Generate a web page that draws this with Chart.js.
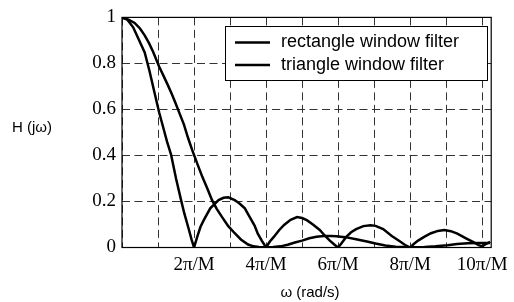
<!DOCTYPE html>
<html>
<head>
<meta charset="UTF-8">
<title>H(jw)</title>
<style>
  body { margin: 0; background: #fff; }
  #wrap { width: 514px; height: 302px; }
</style>
</head>
<body>
<div id="wrap"><canvas id="c" width="514" height="302"></canvas></div>
<script src="https://cdn.jsdelivr.net/npm/chart.js"></script>
<script>
// x in units of pi/M
const rectX = [0, 0.15, 0.31, 0.44, 0.63, 0.76, 0.9, 1.03, 1.13, 1.25, 1.36, 1.5, 1.64, 1.73, 1.86, 1.93, 2.0,
  2.09, 2.18, 2.27, 2.45, 2.68, 2.82, 2.95, 3.13, 3.27, 3.41, 3.5, 3.68, 3.77, 3.88, 4.0,
  4.1, 4.22, 4.36, 4.5, 4.68, 4.86, 5.0, 5.13, 5.3, 5.49, 5.64, 5.77, 5.9, 6.0,
  6.1, 6.22, 6.36, 6.5, 6.7, 6.9, 7.04, 7.25, 7.49, 7.7, 7.85, 8.0,
  8.1, 8.22, 8.4, 8.58, 8.77, 8.95, 9.13, 9.31, 9.55, 9.77, 9.9, 10.0, 10.1, 10.22];
const rectY = [1, 0.99, 0.957, 0.913, 0.848, 0.769, 0.675, 0.588, 0.53, 0.46, 0.405, 0.3, 0.206, 0.148, 0.076, 0.035, 0.0,
  0.047, 0.09, 0.119, 0.17, 0.206, 0.216, 0.218, 0.206, 0.19, 0.17, 0.145, 0.095, 0.06, 0.03, 0.0,
  0.025, 0.047, 0.075, 0.098, 0.12, 0.132, 0.128, 0.119, 0.1, 0.076, 0.05, 0.03, 0.012, 0.0,
  0.02, 0.045, 0.066, 0.08, 0.093, 0.097, 0.094, 0.08, 0.05, 0.028, 0.012, 0,
  0.015, 0.03, 0.047, 0.062, 0.072, 0.076, 0.071, 0.06, 0.04, 0.022, 0.01, 0.005, 0.015, 0.025];
const triX = [0, 0.18, 0.35, 0.5, 0.63, 0.75, 0.86, 1.03, 1.15, 1.26, 1.38, 1.49, 1.6, 1.72, 1.83, 1.95, 2.1, 2.23,
  2.36, 2.5, 2.63, 2.77, 2.95, 3.13, 3.3, 3.5, 3.65, 3.8, 4.0, 4.2, 4.4, 4.6, 4.8, 5.0, 5.2, 5.4, 5.6, 5.8, 5.95,
  6.2, 6.5, 6.8, 7.04, 7.31, 7.6, 8.0, 8.4, 8.7, 9.04, 9.3, 9.6, 9.9, 10.22];
const triY = [1, 0.99, 0.976, 0.952, 0.922, 0.888, 0.852, 0.787, 0.747, 0.71, 0.668, 0.626, 0.582, 0.534, 0.478, 0.423, 0.36, 0.307,
  0.26, 0.206, 0.168, 0.134, 0.093, 0.062, 0.035, 0.013, 0.005, 0.002, 0.001, 0.002, 0.005, 0.012, 0.022, 0.03, 0.04, 0.047, 0.05, 0.05, 0.049,
  0.045, 0.036, 0.026, 0.017, 0.009, 0.003, 0.001, 0.002, 0.005, 0.01, 0.015, 0.018, 0.02, 0.02];
const seriesNames = ['rectangle window filter', 'triangle window filter'];
const xTickLabels = { 2: '2\u03c0/M', 4: '4\u03c0/M', 6: '6\u03c0/M', 8: '8\u03c0/M', 10: '10\u03c0/M' };
const yTickLabels = { 0: '0', 0.2: '0.2', 0.4: '0.4', 0.6: '0.6', 0.8: '0.8', 1: '1' };

function pts(xs, ys) { return xs.map((x, i) => ({ x: x, y: ys[i] })); }

// frame, legend box and axis titles
const decor = {
  id: 'decor',
  afterDraw(chart) {
    const ctx = chart.ctx, a = chart.chartArea;
    ctx.save();
    ctx.strokeStyle = '#000';
    ctx.lineWidth = 1.2;
    ctx.setLineDash([]);
    ctx.strokeRect(a.left, a.top, a.right - a.left, a.bottom - a.top);

    // legend
    const bx = 225, by = 26, bw = 262, bh = 54;
    ctx.fillStyle = '#fff';
    ctx.fillRect(bx, by, bw, bh);
    ctx.lineWidth = 1;
    ctx.strokeRect(bx + 0.5, by + 0.5, bw, bh);
    ctx.font = '18px "Liberation Sans", Arial, sans-serif';
    ctx.textBaseline = 'middle';
    ctx.fillStyle = '#000';
    chart.data.datasets.forEach((ds, i) => {
      const y = 42.5 + i * 22.5;
      ctx.lineWidth = 2.5;
      ctx.beginPath();
      ctx.moveTo(235, y);
      ctx.lineTo(270, y);
      ctx.stroke();
      ctx.fillText(ds.label, 281, y);
    });

    ctx.font = '15px "Liberation Sans", Arial, sans-serif';
    ctx.textAlign = 'left';
    ctx.fillText('H (j\u03c9)', 12, 128);
    ctx.textAlign = 'center';
    ctx.fillText('\u03c9 (rad/s)', 310, 293);
    ctx.restore();
  }
};

new Chart(document.getElementById('c'), {
  type: 'line',
  data: {
    datasets: [
      { label: seriesNames[0], data: pts(rectX, rectY), borderColor: '#000', borderWidth: 2.5, pointRadius: 0, tension: 0 },
      { label: seriesNames[1], data: pts(triX, triY), borderColor: '#000', borderWidth: 2.5, pointRadius: 0, tension: 0 }
    ]
  },
  options: {
    responsive: false,
    animation: false,
    layout: { padding: { top: 17, right: 17, left: 0, bottom: 0 } },
    plugins: { legend: { display: false }, tooltip: { enabled: false } },
    scales: {
      x: {
        type: 'linear', min: 0, max: 10.25,
        afterBuildTicks: s => { s.ticks = [0,1,2,3,4,5,6,7,8,9,10].map(v => ({ value: v })); },
        afterFit: s => { s.height = 54.5; },
        grid: { color: '#333', lineWidth: 1, drawTicks: false },
        border: { display: false, dash: [8, 4.5] },
        ticks: {
          autoSkip: false, maxRotation: 0, padding: 6, color: '#000',
          font: { family: '"Liberation Serif", "Times New Roman", serif', size: 19 },
          callback: v => xTickLabels[v] || ''
        }
      },
      y: {
        min: 0, max: 1,
        afterBuildTicks: s => { s.ticks = [0, 0.2, 0.4, 0.6, 0.8, 1].map(v => ({ value: v })); },
        afterFit: s => { s.width = 122; },
        grid: { color: '#333', lineWidth: 1, drawTicks: false },
        border: { display: false, dash: [8, 4.5] },
        ticks: {
          padding: 6, color: '#000',
          font: { family: '"Liberation Serif", "Times New Roman", serif', size: 19 },
          callback: v => yTickLabels[Math.round(v * 10) / 10]
        }
      }
    }
  },
  plugins: [decor]
});
</script>
</body>
</html>
